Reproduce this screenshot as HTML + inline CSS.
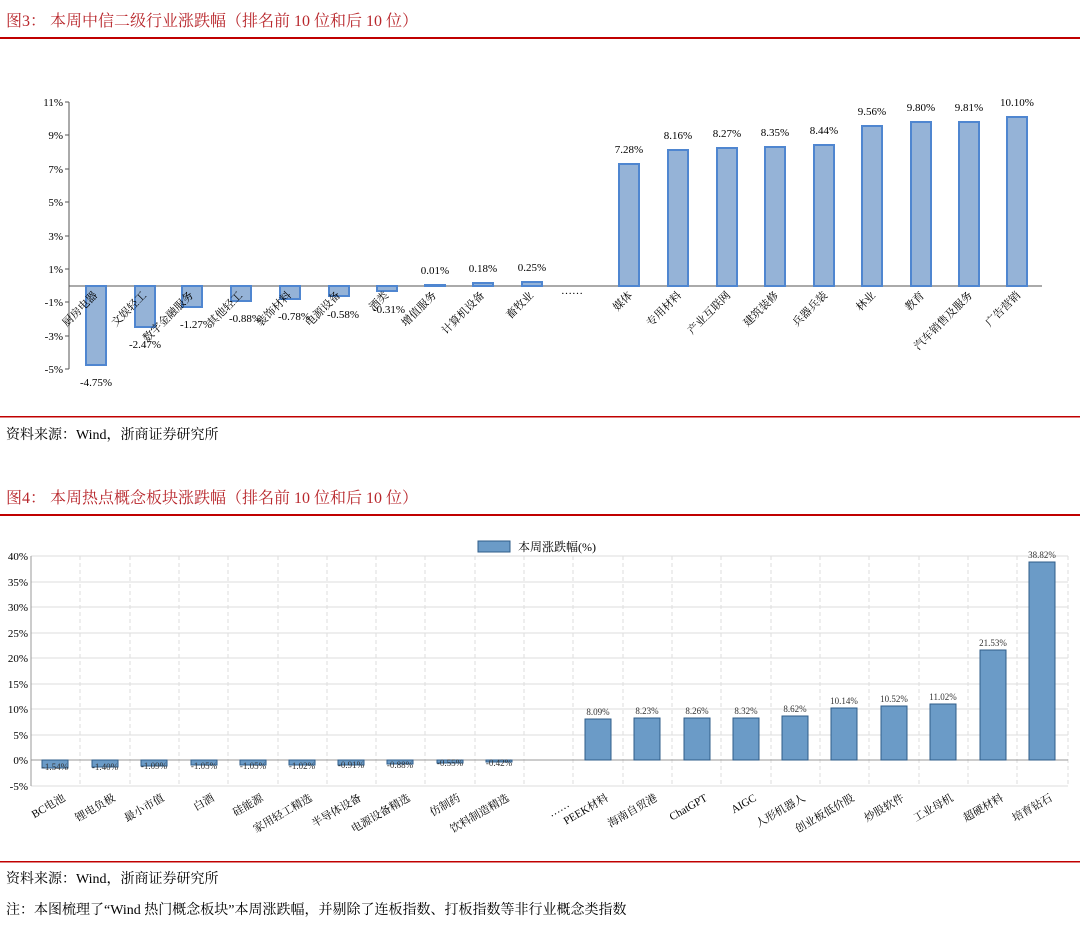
<!DOCTYPE html>
<html><head><meta charset="utf-8"><style>
body{margin:0;background:#fff;}
svg{display:block;font-family:"Liberation Serif","Noto Serif CJK SC",serif;}
</style></head><body>
<svg width="1080" height="927" viewBox="0 0 1080 927" xmlns="http://www.w3.org/2000/svg">
<!-- Header 1 -->
<text x="6" y="26" font-size="16" fill="#b8262b">图3：  本周中信二级行业涨跌幅（排名前 10 位和后 10 位）</text>
<rect x="0" y="37" width="1080" height="2" fill="#c00000"/>
<!-- Top chart axes -->
<g font-size="11" fill="#000" text-anchor="end">
<text x="63" y="106">11%</text><text x="63" y="139">9%</text><text x="63" y="173">7%</text><text x="63" y="206">5%</text><text x="63" y="240">3%</text><text x="63" y="273">1%</text><text x="63" y="306">-1%</text><text x="63" y="340">-3%</text><text x="63" y="373">-5%</text>
</g>
<g stroke="#555" stroke-width="1">
<line x1="69" y1="102" x2="1042" y2="102" stroke="none"/>
<line x1="69" y1="286" x2="1042" y2="286"/>
<line x1="69" y1="102" x2="69" y2="369"/>
<line x1="65" y1="102" x2="69" y2="102"/><line x1="65" y1="135" x2="69" y2="135"/><line x1="65" y1="169" x2="69" y2="169"/><line x1="65" y1="202" x2="69" y2="202"/><line x1="65" y1="236" x2="69" y2="236"/><line x1="65" y1="269" x2="69" y2="269"/><line x1="65" y1="302" x2="69" y2="302"/><line x1="65" y1="336" x2="69" y2="336"/><line x1="65" y1="369" x2="69" y2="369"/>
</g>
<g fill="#95b3d7" stroke="#4f86d0" stroke-width="2">
<rect x="86" y="286" width="20" height="79"/>
<rect x="135" y="286" width="20" height="41"/>
<rect x="182" y="286" width="20" height="21"/>
<rect x="231" y="286" width="20" height="15"/>
<rect x="280" y="286" width="20" height="13"/>
<rect x="329" y="286" width="20" height="10"/>
<rect x="377" y="286" width="20" height="5"/>
<rect x="425" y="285" width="20" height="1"/>
<rect x="473" y="283" width="20" height="3"/>
<rect x="522" y="282" width="20" height="4"/>
<rect x="619" y="164" width="20" height="122"/>
<rect x="668" y="150" width="20" height="136"/>
<rect x="717" y="148" width="20" height="138"/>
<rect x="765" y="147" width="20" height="139"/>
<rect x="814" y="145" width="20" height="141"/>
<rect x="862" y="126" width="20" height="160"/>
<rect x="911" y="122" width="20" height="164"/>
<rect x="959" y="122" width="20" height="164"/>
<rect x="1007" y="117" width="20" height="169"/>
</g>
<g font-size="11" text-anchor="middle" fill="#000">
<text x="96" y="386">-4.75%</text>
<text x="145" y="348">-2.47%</text>
<text x="196" y="328">-1.27%</text>
<text x="245" y="322">-0.88%</text>
<text x="294" y="320">-0.78%</text>
<text x="343" y="318">-0.58%</text>
<text x="389" y="313">-0.31%</text>
<text x="435" y="274">0.01%</text>
<text x="483" y="272">0.18%</text>
<text x="532" y="271">0.25%</text>
<text x="629" y="153">7.28%</text>
<text x="678" y="139">8.16%</text>
<text x="727" y="137">8.27%</text>
<text x="775" y="136">8.35%</text>
<text x="824" y="134">8.44%</text>
<text x="872" y="115">9.56%</text>
<text x="921" y="111">9.80%</text>
<text x="969" y="111">9.81%</text>
<text x="1017" y="106">10.10%</text>
<text x="572" y="294">……</text>
</g>
<g font-size="11" text-anchor="end" fill="#000">
<text transform="translate(98,296) rotate(-45)">厨房电器</text>
<text transform="translate(147,296) rotate(-45)">文娱轻工</text>
<text transform="translate(194,296) rotate(-45)">数字金融服务</text>
<text transform="translate(243,296) rotate(-45)">其他轻工</text>
<text transform="translate(292,296) rotate(-45)">装饰材料</text>
<text transform="translate(341,296) rotate(-45)">电源设备</text>
<text transform="translate(389,296) rotate(-45)">酒类</text>
<text transform="translate(437,296) rotate(-45)">增值服务</text>
<text transform="translate(485,296) rotate(-45)">计算机设备</text>
<text transform="translate(534,296) rotate(-45)">畜牧业</text>
<text transform="translate(633,296) rotate(-45)">媒体</text>
<text transform="translate(682,296) rotate(-45)">专用材料</text>
<text transform="translate(731,296) rotate(-45)">产业互联网</text>
<text transform="translate(779,296) rotate(-45)">建筑装修</text>
<text transform="translate(828,296) rotate(-45)">兵器兵装</text>
<text transform="translate(876,296) rotate(-45)">林业</text>
<text transform="translate(925,296) rotate(-45)">教育</text>
<text transform="translate(973,296) rotate(-45)">汽车销售及服务</text>
<text transform="translate(1021,296) rotate(-45)">广告营销</text>
</g>
<rect x="0" y="416" width="1080" height="1.5" fill="#c00000"/>
<text x="6" y="439" font-size="14" fill="#000">资料来源：Wind，浙商证券研究所</text>

<!-- Header 2 -->
<text x="6" y="503" font-size="16" fill="#b8262b">图4：  本周热点概念板块涨跌幅（排名前 10 位和后 10 位）</text>
<rect x="0" y="514" width="1080" height="2" fill="#c00000"/>
<!-- legend -->
<rect x="478" y="541" width="32" height="11" fill="#6b9bc7" stroke="#2f5d8a"/>
<text x="518" y="551" font-size="12">本周涨跌幅(%)</text>
<!-- grid -->
<g stroke="#ddd" stroke-width="1">
<line x1="31" y1="556" x2="1068" y2="556"/><line x1="31" y1="582" x2="1068" y2="582"/><line x1="31" y1="607" x2="1068" y2="607"/><line x1="31" y1="633" x2="1068" y2="633"/><line x1="31" y1="658" x2="1068" y2="658"/><line x1="31" y1="684" x2="1068" y2="684"/><line x1="31" y1="709" x2="1068" y2="709"/><line x1="31" y1="735" x2="1068" y2="735"/><line x1="31" y1="786" x2="1068" y2="786"/>
</g>
<g stroke="#ddd" stroke-width="1" stroke-dasharray="4,3">
<line x1="80" y1="556" x2="80" y2="786"/><line x1="130" y1="556" x2="130" y2="786"/><line x1="179" y1="556" x2="179" y2="786"/><line x1="228" y1="556" x2="228" y2="786"/><line x1="278" y1="556" x2="278" y2="786"/><line x1="327" y1="556" x2="327" y2="786"/><line x1="376" y1="556" x2="376" y2="786"/><line x1="425" y1="556" x2="425" y2="786"/><line x1="475" y1="556" x2="475" y2="786"/><line x1="524" y1="556" x2="524" y2="786"/><line x1="573" y1="556" x2="573" y2="786"/><line x1="623" y1="556" x2="623" y2="786"/><line x1="672" y1="556" x2="672" y2="786"/><line x1="721" y1="556" x2="721" y2="786"/><line x1="771" y1="556" x2="771" y2="786"/><line x1="820" y1="556" x2="820" y2="786"/><line x1="869" y1="556" x2="869" y2="786"/><line x1="919" y1="556" x2="919" y2="786"/><line x1="968" y1="556" x2="968" y2="786"/><line x1="1017" y1="556" x2="1017" y2="786"/><line x1="1068" y1="556" x2="1068" y2="786"/>
</g>
<g stroke="#999" stroke-width="1">
<line x1="31" y1="556" x2="31" y2="786"/><line x1="31" y1="760" x2="1068" y2="760"/>
</g>
<g font-size="11" text-anchor="end">
<text x="28" y="560">40%</text><text x="28" y="586">35%</text><text x="28" y="611">30%</text><text x="28" y="637">25%</text><text x="28" y="662">20%</text><text x="28" y="688">15%</text><text x="28" y="713">10%</text><text x="28" y="739">5%</text><text x="28" y="764">0%</text><text x="28" y="790">-5%</text>
</g>
<g fill="#6b9bc7" stroke="#2f5d8a" stroke-width="1">
<rect x="42" y="760" width="26" height="8"/>
<rect x="92" y="760" width="26" height="7"/>
<rect x="141" y="760" width="26" height="6"/>
<rect x="191" y="760" width="26" height="5"/>
<rect x="240" y="760" width="26" height="5"/>
<rect x="289" y="760" width="26" height="5"/>
<rect x="338" y="760" width="26" height="5"/>
<rect x="387" y="760" width="26" height="4"/>
<rect x="437" y="760" width="26" height="3"/>
<rect x="486" y="760" width="26" height="2"/>
<rect x="585" y="719" width="26" height="41"/>
<rect x="634" y="718" width="26" height="42"/>
<rect x="684" y="718" width="26" height="42"/>
<rect x="733" y="718" width="26" height="42"/>
<rect x="782" y="716" width="26" height="44"/>
<rect x="831" y="708" width="26" height="52"/>
<rect x="881" y="706" width="26" height="54"/>
<rect x="930" y="704" width="26" height="56"/>
<rect x="980" y="650" width="26" height="110"/>
<rect x="1029" y="562" width="26" height="198"/>
</g>
<g font-size="9" text-anchor="middle" fill="#333">
<text x="55" y="770">-1.54%</text><text x="105" y="770">-1.40%</text><text x="154" y="769">-1.09%</text><text x="204" y="769">-1.05%</text><text x="253" y="769">-1.05%</text><text x="302" y="769">-1.02%</text><text x="351" y="768">-0.91%</text><text x="400" y="768">-0.88%</text><text x="450" y="766">-0.55%</text><text x="499" y="766">-0.42%</text>
<text x="598" y="715">8.09%</text><text x="647" y="714">8.23%</text><text x="697" y="714">8.26%</text><text x="746" y="714">8.32%</text><text x="795" y="712">8.62%</text><text x="844" y="704">10.14%</text><text x="894" y="702">10.52%</text><text x="943" y="700">11.02%</text><text x="993" y="646">21.53%</text><text x="1042" y="558">38.82%</text>
</g>
<g font-size="11" text-anchor="end">
<text transform="translate(66,800) rotate(-30)">BC电池</text>
<text transform="translate(116,800) rotate(-30)">锂电负极</text>
<text transform="translate(165,800) rotate(-30)">最小市值</text>
<text transform="translate(215,800) rotate(-30)">白酒</text>
<text transform="translate(264,800) rotate(-30)">硅能源</text>
<text transform="translate(313,800) rotate(-30)">家用轻工精选</text>
<text transform="translate(362,800) rotate(-30)">半导体设备</text>
<text transform="translate(411,800) rotate(-30)">电源设备精选</text>
<text transform="translate(461,800) rotate(-30)">仿制药</text>
<text transform="translate(510,800) rotate(-30)">饮料制造精选</text>
<text transform="translate(570,806) rotate(-30)">……</text>
<text transform="translate(609,800) rotate(-30)">PEEK材料</text>
<text transform="translate(658,800) rotate(-30)">海南自贸港</text>
<text transform="translate(708,800) rotate(-30)">ChatGPT</text>
<text transform="translate(757,800) rotate(-30)">AIGC</text>
<text transform="translate(806,800) rotate(-30)">人形机器人</text>
<text transform="translate(855,800) rotate(-30)">创业板低价股</text>
<text transform="translate(905,800) rotate(-30)">炒股软件</text>
<text transform="translate(954,800) rotate(-30)">工业母机</text>
<text transform="translate(1004,800) rotate(-30)">超硬材料</text>
<text transform="translate(1053,800) rotate(-30)">培育钻石</text>
</g>
<rect x="0" y="861" width="1080" height="1.5" fill="#c00000"/>
<text x="6" y="883" font-size="14">资料来源：Wind，浙商证券研究所</text>
<text x="6" y="914" font-size="14">注：本图梳理了“Wind 热门概念板块”本周涨跌幅，并剔除了连板指数、打板指数等非行业概念类指数</text>
</svg>
</body></html>
